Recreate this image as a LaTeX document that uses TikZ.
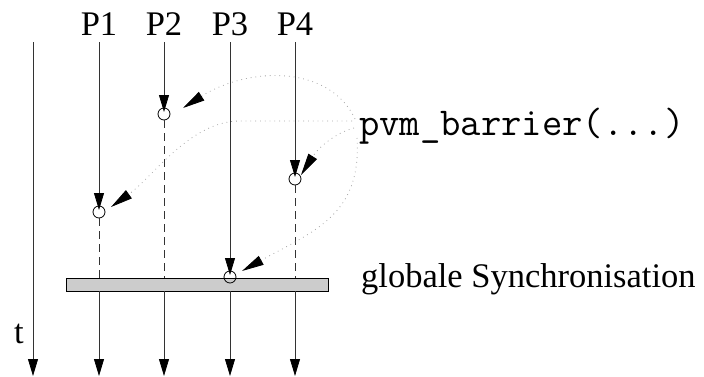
\documentclass[tikz,border=0pt]{standalone}
\usepackage{fontspec}
\setmainfont{Liberation Serif}
\usetikzlibrary{arrows.meta}

\begin{document}
\begin{tikzpicture}[
    x=1pt, y=-1pt,
    font=\fontsize{34.5}{40}\selectfont,
    lbl/.style={inner sep=0pt, anchor=base},
    tline/.style={line width=0.8pt, draw=black!80, -{Triangle[length=17pt, width=10pt, color=black]}},
    waitline/.style={line width=0.8pt, draw=black!80, dash pattern=on 8pt off 5pt},
    callpt/.style={circle, draw, line width=0.8pt, minimum size=12pt, inner sep=0pt},
    hint/.style={line width=0.8pt, draw=black!35, dash pattern=on 0.8pt off 4pt, -{Triangle[length=22pt, width=10pt, color=black]}},
    syncbar/.style={rectangle, draw, line width=0.8pt, fill=black!20, minimum width=262pt, minimum height=13pt, inner sep=0pt}
  ]
    \useasboundingbox (0,0) rectangle (704,376);

    % process labels and time axis
    \node[lbl] (p1) at (99,35) {P1};
    \node[lbl] (p2) at (164,35) {P2};
    \node[lbl] (p3) at (230,35) {P3};
    \node[lbl] (p4) at (295,35) {P4};
    \node[lbl] (t) at (19,343) {t};
    \coordinate (ttop) at (33,42);
    \coordinate (tend) at (33,376);
    \draw[tline] (ttop) -- (tend);

    % barrier
    \node[syncbar] (bar) at (197,284.5) {};
    \node[lbl, anchor=base west] (sync) at (361,287) {globale Synchronisation};
    \node[lbl, anchor=base west] (call) at (359,135) {\fontsize{39.5}{44}\selectfont\ttfamily pvm\_barrier(...)};

    % calls
    \node[callpt] (b1) at (99,212) {};
    \node[callpt] (b2) at (164,114) {};
    \node[callpt] (b3) at (230,277) {};
    \node[callpt] (b4) at (295,179) {};

    \foreach \i/\x in {1/99,2/164,3/230,4/295} {
      \coordinate (top\i) at (\x,42);
      \coordinate (low\i) at (\x,291);
      \coordinate (end\i) at (\x,376);
      \draw[tline] (top\i) -- ([yshift=2pt]b\i.center);
      \draw[tline] (low\i) -- (end\i);
    }
    \foreach \i/\x in {1/99,2/164,4/295} {
      \coordinate (up\i) at (\x,278);
      \draw[waitline] (b\i.south) -- (up\i);
    }

    % hints from the call
    \coordinate (h1) at (111,207);
    \coordinate (h2) at (183,108);
    \coordinate (h3) at (242,271);
    \coordinate (h4) at (301,175);
    \coordinate (bend) at (240,121);
    \draw[hint] (355,119) .. controls (330,65) and (249,66) .. (h2);
    \draw[hint] (352,121) -- (bend) .. controls (190,121) and (153,177) .. (h1);
    \draw[hint] (354,128) .. controls (335,133) and (318,148) .. (h4);
    \draw[hint] (357,138) .. controls (362,215) and (314,231) .. (h3);
  \end{tikzpicture}
\end{document}
